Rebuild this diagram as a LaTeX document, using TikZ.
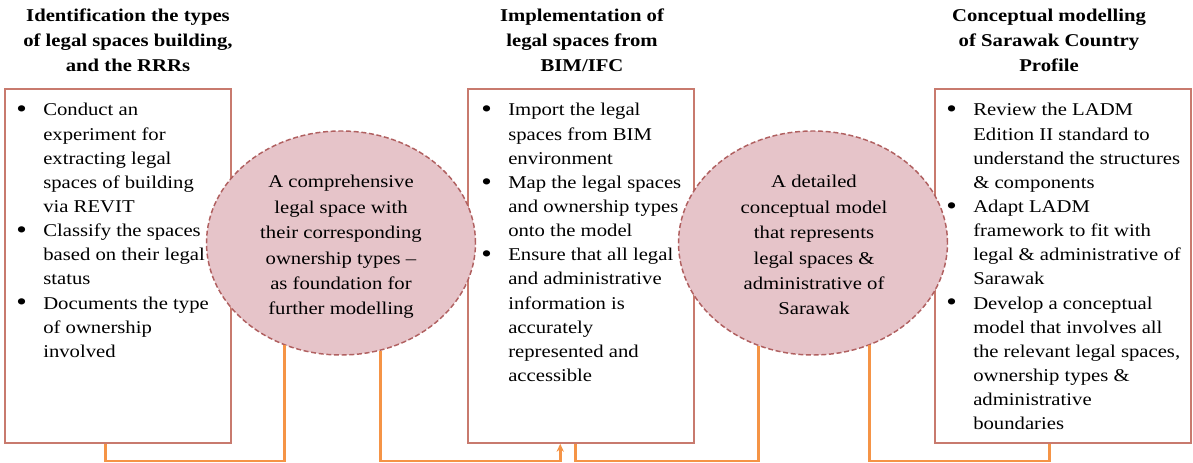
\documentclass[tikz,border=0pt]{standalone}
\usepackage{fontspec}
\setmainfont{Liberation Serif}[FakeStretch=1.15]
\usetikzlibrary{shapes.geometric,calc,fit,arrows.meta}

\definecolor{boxline}{RGB}{200,122,110}
\definecolor{ovalfill}{RGB}{230,196,201}
\definecolor{ovalline}{RGB}{176,96,96}
\definecolor{flow}{RGB}{245,148,70}

% a round list marker, a little larger than the text bullet
\newcommand{\listdot}{\raisebox{-1.4pt}{\scalebox{1.45}{\textbullet}}}

\tikzset{
  panel/.style={draw=boxline, line width=1.15pt, inner sep=0pt},
  oval/.style={ellipse, draw=ovalline, fill=ovalfill, line width=1.1pt,
    dash pattern=on 3.75pt off 2pt, minimum width=201.75pt,
    minimum height=168pt, inner sep=0pt},
  flowline/.style={draw=flow, line width=2pt},
  heading/.style={anchor=base, inner sep=0pt,
    font=\bfseries\fontsize{13.5}{18.75}\selectfont},
  itemlist/.style={anchor=base west, inner sep=0pt,
    font=\fontsize{13.5}{18.1}\selectfont},
  ovaltext/.style={anchor=base, inner sep=0pt,
    font=\fontsize{13.5}{19.05}\selectfont},
}

\begin{document}
\begin{tikzpicture}[x=0.75pt, y=-0.75pt]
\useasboundingbox (0,0) rectangle (1193,463);

% stage boxes
\node[panel, fit={(5,89) (231,443)}] (b1) {};
\node[panel, fit={(468,89) (694,443)}] (b2) {};
\node[panel, fit={(935,89) (1191,443)}] (b3) {};

% stage headings
\node[heading] (h1) at (128,22) {\begin{tabular}[t]{@{}c@{}}Identification the types\\of legal spaces building,\\and the RRRs\end{tabular}};
\node[heading] (h2) at (582,22) {\begin{tabular}[t]{@{}c@{}}Implementation of\\legal spaces from\\BIM/IFC\end{tabular}};
\node[heading] (h3) at (1049,22) {\begin{tabular}[t]{@{}c@{}}Conceptual modelling\\of Sarawak Country\\Profile\end{tabular}};

% task lists
\node[itemlist] (t1) at (16,116) {\begin{tabular}[t]{@{}p{20.25pt}@{}l@{}}
\listdot & Conduct an\\
 & experiment for\\
 & extracting legal\\
 & spaces of building\\
 & via REVIT\\
\listdot & Classify the spaces\\
 & based on their legal\\
 & status\\
\listdot & Documents the type\\
 & of ownership\\
 & involved
\end{tabular}};

\node[itemlist] (t2) at (481,116) {\begin{tabular}[t]{@{}p{20.25pt}@{}l@{}}
\listdot & Import the legal\\
 & spaces from BIM\\
 & environment\\
\listdot & Map the legal spaces\\
 & and ownership types\\
 & onto the model\\
\listdot & Ensure that all legal\\
 & and administrative\\
 & information is\\
 & accurately\\
 & represented and\\
 & accessible
\end{tabular}};

\node[itemlist] (t3) at (946,116) {\begin{tabular}[t]{@{}p{20.25pt}@{}l@{}}
\listdot & Review the LADM\\
 & Edition II standard to\\
 & understand the structures\\
 & \& components\\
\listdot & Adapt LADM\\
 & framework to fit with\\
 & legal \& administrative of\\
 & Sarawak\\
\listdot & Develop a conceptual\\
 & model that involves all\\
 & the relevant legal spaces,\\
 & ownership types \&\\
 & administrative\\
 & boundaries
\end{tabular}};

% outcome ovals
\node[oval] (e1) at (341,243) {};
\node[oval] (e2) at (813,243) {};
\node[ovaltext] (o1) at (341,188) {\begin{tabular}[t]{@{}c@{}}A comprehensive\\legal space with\\their corresponding\\ownership types --\\as foundation for\\further modelling\end{tabular}};
\node[ovaltext] (o2) at (814,188) {\begin{tabular}[t]{@{}c@{}}A detailed\\conceptual model\\that represents\\legal spaces \&\\administrative of\\Sarawak\end{tabular}};

% flow connectors along the bottom
\coordinate (lo) at (0,461);
\coordinate (s1) at ($(b1.south west)+(101,0)$);
\coordinate (a2) at ($(b2.south west)+(93,0)$);
\coordinate (s2) at ($(b2.south west)+(108,0)$);
\coordinate (a3) at ($(b3.south west)+(115,0)$);

\draw[flowline] (s1) -- (s1 |- lo) -| (e1.241);
\draw[flowline, -{Stealth[length=6pt,width=5.5pt]}] (e1.290) -- (e1.290 |- lo) -| (a2);
\draw[flowline] (s2) -- (s2 |- lo) -| (e2.242);
\draw[flowline] (e2.299) -- (e2.299 |- lo) -| (a3);
\end{tikzpicture}
\end{document}
